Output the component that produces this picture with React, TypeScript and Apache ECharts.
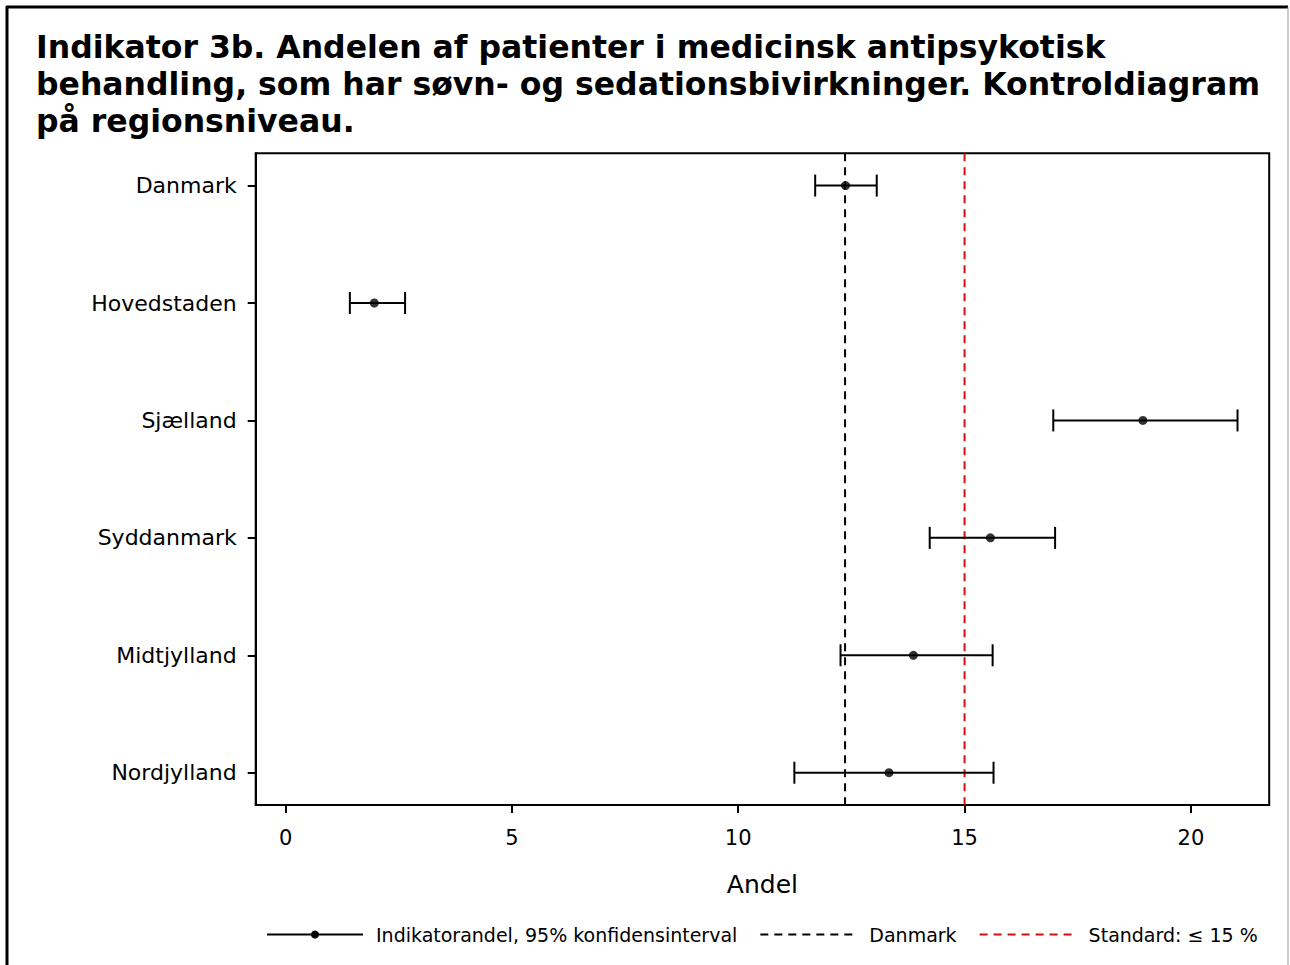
import React, { useEffect, useRef } from "react";
import * as echarts from "echarts";

const titleLines = [
  "Indikator 3b. Andelen af patienter i medicinsk antipsykotisk",
  "behandling, som har søvn- og sedationsbivirkninger. Kontroldiagram",
  "på regionsniveau.",
];
const regions = ["Danmark", "Hovedstaden", "Sjælland", "Syddanmark", "Midtjylland", "Nordjylland"];
const estimates = [12.37, 1.96, 18.94, 15.57, 13.87, 13.33];
const lowerCI = [11.7, 1.42, 16.96, 14.23, 12.26, 11.24];
const upperCI = [13.06, 2.64, 21.03, 17.0, 15.62, 15.64];
const danmarkLevel = 12.36;
const standardLevel = 15;
const xTicks = [0, 5, 10, 15, 20];
const legendNames = ["Indikatorandel, 95% konfidensinterval", "Danmark", "Standard: ≤ 15 %"];

const Y_MIN = -0.275;
const Y_MAX = 5.275;
const RED = "#d01010";
const FONT = "DejaVu Sans";

export default function App() {
  const ref = useRef<HTMLDivElement>(null);
  useEffect(() => {
    if (!ref.current) return;
    const chart = echarts.init(ref.current, null, { renderer: "svg" });
    const idx = regions.map((_, i) => i);
    const hiddenSym = { color: "rgba(0,0,0,0)", borderWidth: 0, opacity: 0 };
    const option: any = {
      animation: false,
      backgroundColor: "#fff",
      textStyle: { fontFamily: FONT, color: "#000" },
      title: {
        text: titleLines.join("\n"),
        left: 36,
        top: 28,
        padding: 0,
        textStyle: {
          fontFamily: FONT,
          fontWeight: "bold",
          fontSize: 31.5,
          lineHeight: 37,
          color: "#000",
        },
      },
      graphic: [
        { type: "line", shape: { x1: 7, y1: 6, x2: 7, y2: 975 }, style: { stroke: "#000", lineWidth: 3 } },
        { type: "line", shape: { x1: 6, y1: 7, x2: 1288, y2: 7 }, style: { stroke: "#000", lineWidth: 3 } },
        { type: "line", shape: { x1: 1288, y1: 7, x2: 1288, y2: 975 }, style: { stroke: "#999", lineWidth: 1 } },
      ],
      grid: {
        left: 255.7,
        right: 20.8,
        top: 153.3,
        bottom: 160,
        show: true,
        borderColor: "#000",
        borderWidth: 2,
        containLabel: false,
      },
      legend: {
        data: [
          { name: legendNames[0] },
          { name: legendNames[1], itemStyle: hiddenSym },
          { name: legendNames[2], itemStyle: hiddenSym },
        ],
        left: 266,
        top: 925,
        padding: 0,
        itemWidth: 96,
        itemHeight: 10,
        itemGap: 22,
        textStyle: { fontFamily: FONT, fontSize: 19, color: "#000", padding: [0, 0, 0, 8] },
      },
      xAxis: {
        type: "value",
        min: -0.66,
        max: 21.73,
        name: "Andel",
        nameLocation: "middle",
        nameGap: 67,
        nameTextStyle: { fontFamily: FONT, fontSize: 25, color: "#000" },
        axisLine: { show: true, onZero: false, lineStyle: { color: "#000", width: 2 } },
        axisTick: { show: true, length: 8, lineStyle: { color: "#000", width: 2 }, customValues: xTicks },
        axisLabel: {
          fontFamily: FONT,
          fontSize: 21,
          color: "#000",
          margin: 22,
          customValues: xTicks,
        },
        splitLine: { show: false },
      },
      yAxis: {
        type: "value",
        inverse: true,
        min: Y_MIN,
        max: Y_MAX,
        axisLine: { show: true, onZero: false, lineStyle: { color: "#000", width: 2 } },
        axisTick: { show: true, length: 8, lineStyle: { color: "#000", width: 2 }, customValues: idx },
        axisLabel: {
          fontFamily: FONT,
          fontSize: 22,
          color: "#000",
          margin: 19,
          customValues: idx,
          formatter: (v: number) => regions[Math.round(v)] ?? "",
        },
        splitLine: { show: false },
      },
      series: [
        {
          name: legendNames[0],
          type: "line",
          data: [],
          symbol: "circle",
          symbolSize: 9,
          itemStyle: { color: "#000" },
          lineStyle: { color: "#000", width: 2 },
        },
        {
          name: "ci",
          type: "custom",
          data: idx.map((i) => [lowerCI[i], upperCI[i], i]),
          encode: { x: [0, 1], y: 2 },
          renderItem: (params: any, api: any) => {
            const lo = api.coord([api.value(0), api.value(2)]);
            const hi = api.coord([api.value(1), api.value(2)]);
            const h = 11;
            const st = { stroke: "#000", lineWidth: 2, fill: "none" };
            return {
              type: "group",
              children: [
                { type: "line", shape: { x1: lo[0], y1: lo[1], x2: hi[0], y2: hi[1] }, style: st },
                { type: "line", shape: { x1: lo[0], y1: lo[1] - h, x2: lo[0], y2: lo[1] + h }, style: st },
                { type: "line", shape: { x1: hi[0], y1: hi[1] - h, x2: hi[0], y2: hi[1] + h }, style: st },
              ],
            };
          },
          z: 3,
        },
        {
          name: "pts",
          type: "scatter",
          data: idx.map((i) => [estimates[i], i]),
          symbol: "circle",
          symbolSize: 9,
          itemStyle: { color: "#000" },
          z: 4,
        },
        {
          name: legendNames[1],
          type: "line",
          data: [
            [danmarkLevel, Y_MIN],
            [danmarkLevel, Y_MAX],
          ],
          symbol: "none",
          itemStyle: { color: "#000" },
          lineStyle: { color: "#000", width: 2, type: [8, 6] },
          z: 2,
        },
        {
          name: legendNames[2],
          type: "line",
          data: [
            [standardLevel, Y_MIN],
            [standardLevel, Y_MAX],
          ],
          symbol: "none",
          itemStyle: { color: RED },
          lineStyle: { color: RED, width: 2, type: [8, 6] },
          z: 2,
        },
      ],
    };
    chart.setOption(option);
    return () => chart.dispose();
  }, []);
  return (
    <div
      ref={ref}
      style={{ position: "absolute", left: 0, top: 0, width: 1290, height: 965 }}
    />
  );
}
